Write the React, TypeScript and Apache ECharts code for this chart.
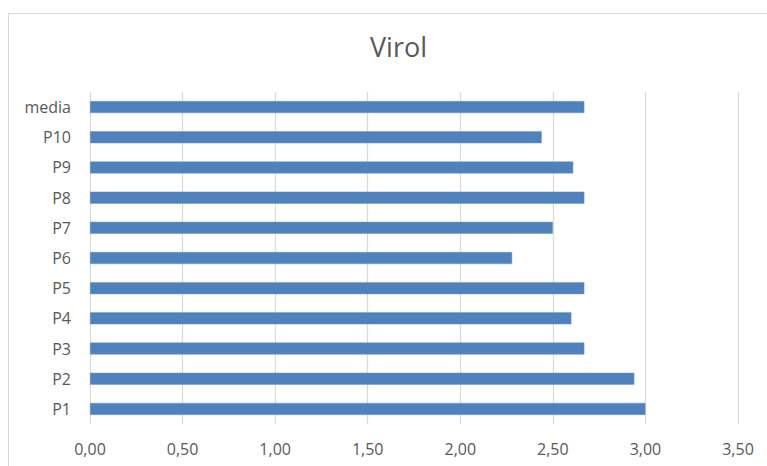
import React, { useEffect, useRef } from "react";
import * as echarts from "echarts";

const categories = ["P1", "P2", "P3", "P4", "P5", "P6", "P7", "P8", "P9", "P10", "media"];
const values = [3.0, 2.94, 2.67, 2.6, 2.67, 2.28, 2.5, 2.67, 2.61, 2.44, 2.67];
const title = "Virol";

export default function App() {
  const ref = useRef<HTMLDivElement>(null);
  useEffect(() => {
    const chart = echarts.init(ref.current!, null, { renderer: "svg" });
    chart.setOption({
      animation: false,
      title: {
        text: title,
        left: 365,
        top: 28,
        textStyle: { fontFamily: "Open Sans", fontWeight: "normal", fontSize: 27, color: "#595959" },
      },
      graphic: [
        {
          type: "rect",
          shape: { x: 8.5, y: 13.5, width: 800, height: 500 },
          style: { fill: "none", stroke: "#d9d9d9", lineWidth: 1 },
          silent: true,
        },
      ],
      grid: { left: 90, right: 29, top: 92, bottom: 42 },
      xAxis: {
        type: "value",
        min: 0,
        max: 3.5,
        interval: 0.5,
        axisLine: { show: false },
        axisTick: { show: false },
        splitLine: { show: true, lineStyle: { color: "#d9d9d9", width: 1.2 } },
        axisLabel: {
          color: "#595959",
          fontSize: 16,
          fontFamily: "Open Sans",
          margin: 17,
          formatter: (v: number) => v.toFixed(2).replace(".", ","),
        },
      },
      yAxis: {
        type: "category",
        data: categories,
        axisLine: { show: false },
        axisTick: { show: false },
        axisLabel: { color: "#595959", fontSize: 16, fontFamily: "Open Sans", margin: 19 },
      },
      series: [
        {
          type: "bar",
          data: values,
          barWidth: 12,
          itemStyle: { color: "#4f81bd", borderColor: "#6e98cc", borderWidth: 0.5 },
        },
      ],
    });
    return () => chart.dispose();
  }, []);
  return <div ref={ref} style={{ width: 767, height: 466, position: "absolute", left: 0, top: 0 }} />;
}
